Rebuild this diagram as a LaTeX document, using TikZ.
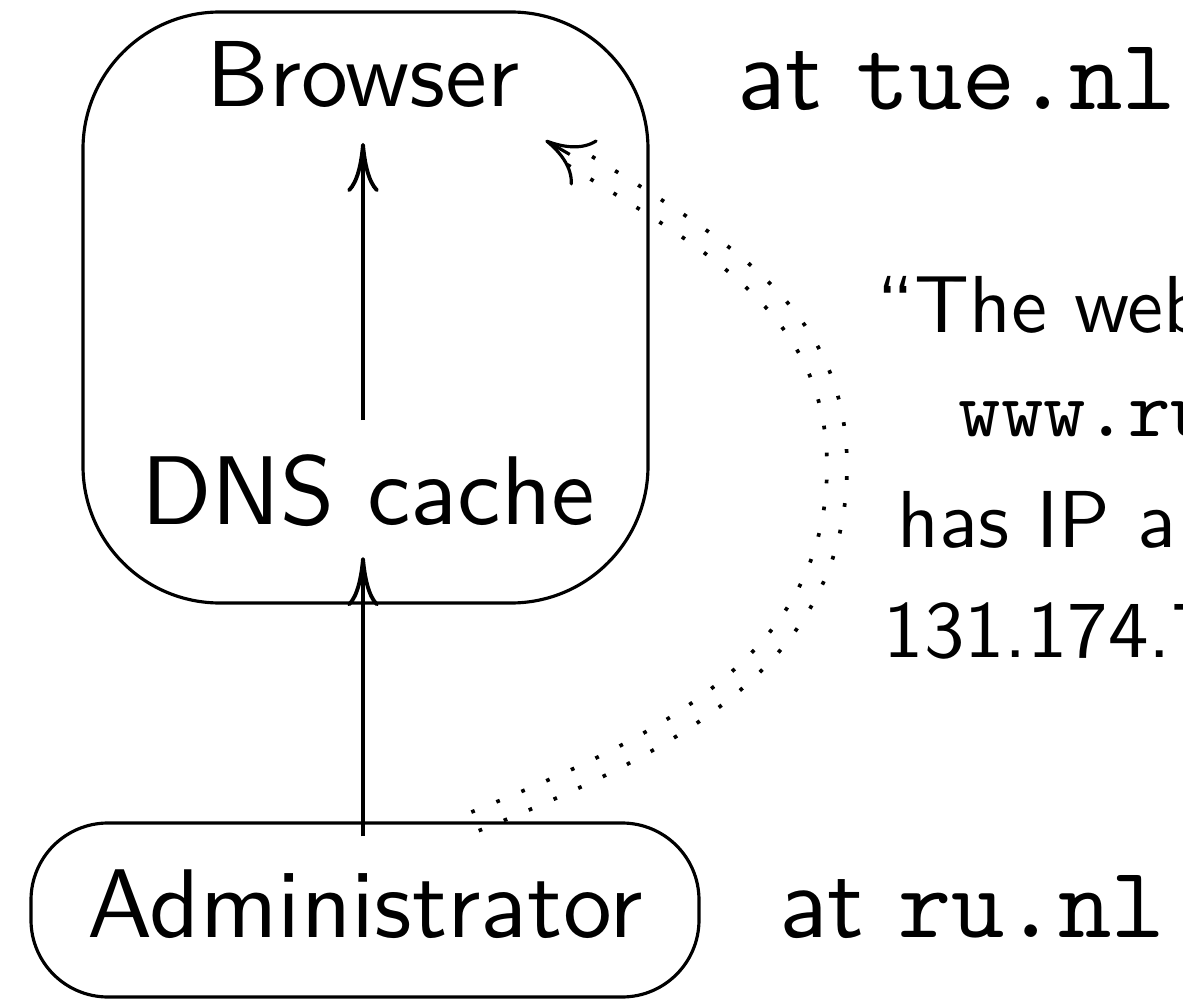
\documentclass[tikz,border=0pt]{standalone}
\usepackage{tikz}
\usetikzlibrary{arrows.meta,positioning}

\begin{document}
\begin{tikzpicture}[
    lbl/.style={inner sep=0pt, anchor=base, font=\sffamily, scale=2.75},
    quote/.style={inner sep=0pt, anchor=base west, font=\sffamily, scale=2.3},
    box/.style={draw, line width=0.9pt, rounded corners=#1},
    arr/.style={line width=1.1pt, -{To[length=14pt,width=9pt]}},
    dots/.style={line width=1.05pt, dash pattern=on 1.05pt off 6.65pt},
    tip/.style={line width=0.9pt, -{To[length=13pt,width=15pt]}}]

    \useasboundingbox (0,0) rectangle (11.83,-9.99);

    % host at tue.nl
    \node[box=1.37cm, minimum width=5.65cm, minimum height=5.91cm] (host) at (3.655,-3.075) {};
    \node[lbl, scale=0.97] (browser) at (3.63,-1.07) {Browser};
    \node[lbl, scale=1.01] (dns) at (3.68,-5.25) {DNS cache};
    \node[lbl, anchor=base west, scale=1.05] (tue) at (7.35,-1.10) {at \texttt{tue.nl}};

    % host at ru.nl
    \node[box=0.77cm, minimum width=6.68cm, minimum height=1.74cm] (admin) at (3.65,-9.10) {};
    \node[lbl, scale=1.01] (admintxt) at (3.65,-9.37) {Administrator};
    \node[lbl, anchor=base west, scale=1.05] (ru) at (7.77,-9.37) {at \texttt{ru.nl}};

    % the forged answer
    \node[quote] (q1) at (8.75,-3.32) {\textquotedblleft The web};
    \node[quote, font=\ttfamily] (q2) at (9.57,-4.37) {www.ru};
    \node[quote] (q3) at (8.96,-5.47) {has IP a};
    \node[quote] (q4) at (8.82,-6.57) {131.174.7};

    % lookups
    \draw[arr, shorten >=0.33cm, shorten <=0.33cm] (dns.north -| browser) -- (browser.south);
    \draw[arr, shorten >=0.28cm] ([yshift=-0.15cm]admin.north -| browser) -- (dns.south -| browser);

    % double dotted line from the administrator into the cache
    \coordinate (src) at ([xshift=1.1cm]admin.north);
    \coordinate (bend) at (8.37,-4.66);
    \coordinate (dst) at ([xshift=1.8cm,yshift=-1.30cm]host.north);
    \coordinate (end) at ([shift={(-30:0.28)}]dst);
    \draw[dots] ([shift={(0.037,-0.093)}]src) to[out=22,in=-90] ([xshift=0.1cm]bend)
        to[out=90,in=-32] ([shift={(0.053,0.085)}]end);
    \draw[dots] ([shift={(-0.037,0.093)}]src) to[out=22,in=-90] ([xshift=-0.1cm]bend)
        to[out=90,in=-32] ([shift={(-0.053,-0.085)}]end);
    \draw[tip] (end) -- (dst);
\end{tikzpicture}
\end{document}
